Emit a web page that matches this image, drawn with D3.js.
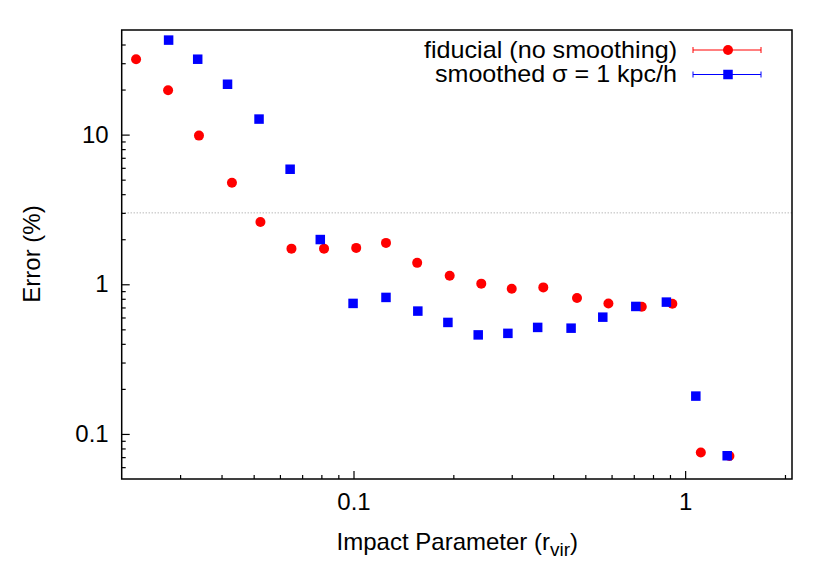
<!DOCTYPE html>
<html>
<head>
<meta charset="utf-8">
<script src="https://d3js.org/d3.v7.min.js"></script>
<style>
  body { margin: 0; background: #fff; }
  text { font-family: "Liberation Sans", Arial, Helvetica, sans-serif; fill: #000; }
</style>
</head>
<body>
<div id="chart"></div>
<script>
// values
const fidX = [0.0221, 0.0276, 0.0342, 0.0430, 0.0524, 0.0650, 0.0815, 0.1019, 0.1253, 0.1556,
              0.1950, 0.2428, 0.300, 0.3735, 0.472, 0.587, 0.740, 0.915, 1.115, 1.36];
const fidY = [31.9, 19.8, 9.85, 4.77, 2.61, 1.73, 1.73, 1.75, 1.89, 1.39,
              1.14, 1.01, 0.933, 0.953, 0.809, 0.745, 0.707, 0.741, 0.0751, 0.0713];
const smX = [0.0277, 0.0339, 0.0417, 0.0519, 0.0644, 0.0794, 0.0997, 0.1253, 0.1563, 0.1926,
             0.2377, 0.2921, 0.3592, 0.453, 0.5645, 0.710, 0.878, 1.077, 1.339];
const smY = [42.8, 31.9, 21.7, 12.7, 5.87, 1.99, 0.745, 0.817, 0.662, 0.556,
             0.459, 0.470, 0.515, 0.509, 0.603, 0.711, 0.760, 0.179, 0.0715];
const xMajor = [0.1, 1];
const xMinor = [0.03, 0.04, 0.05, 0.06, 0.07, 0.08, 0.09, 0.2, 0.3, 0.4, 0.5, 0.6, 0.7, 0.8, 0.9, 2];
const yMajor = [0.1, 1, 10];
const yMinor = [0.06, 0.07, 0.08, 0.09, 0.2, 0.3, 0.4, 0.5, 0.6, 0.7, 0.8, 0.9,
                2, 3, 4, 5, 6, 7, 8, 9, 20, 30, 40];
const refLine = 3;
const legendLabels = ["fiducial (no smoothing)", "smoothed \u03c3 = 1 kpc/h"];

const w = 830, h = 581;
const pLeft = 121.7, pRight = 792, pTop = 30, pBottom = 479;

const svg = d3.select("#chart").append("svg")
  .attr("width", w).attr("height", h);

const x = d3.scaleLog().domain([0.02, 2.1]).range([pLeft, pRight]);
const y = d3.scaleLog().domain([0.05, 50]).range([pBottom, pTop]);

// dotted reference line
svg.append("line")
  .attr("x1", pLeft).attr("x2", pRight)
  .attr("y1", y(refLine)).attr("y2", y(refLine))
  .attr("stroke", "#9a9a9a").attr("stroke-width", 1)
  .attr("stroke-dasharray", "1,2");

// axes (ticks point inward)
svg.append("g").attr("transform", "translate(0," + pBottom + ")")
  .call(d3.axisBottom(x).tickValues(xMajor).tickFormat(d3.format("")).tickSize(-8).tickPadding(14));
svg.append("g").attr("transform", "translate(0," + pBottom + ")")
  .call(d3.axisBottom(x).tickValues(xMinor).tickFormat("").tickSize(-4));
svg.append("g").attr("transform", "translate(" + pLeft + ",0)")
  .call(d3.axisLeft(y).tickValues(yMajor).tickFormat(d3.format("")).tickSize(-8).tickPadding(13));
svg.append("g").attr("transform", "translate(" + pLeft + ",0)")
  .call(d3.axisLeft(y).tickValues(yMinor).tickFormat("").tickSize(-4));

svg.selectAll(".domain").remove();
svg.selectAll(".tick line").attr("stroke", "#000").attr("stroke-width", 1.2);
svg.selectAll(".tick text").style("font-size", "24px").attr("fill", "#000")
  .style("font-family", "'Liberation Sans', Arial, sans-serif");

// border
svg.append("rect")
  .attr("x", pLeft).attr("y", pTop)
  .attr("width", pRight - pLeft).attr("height", pBottom - pTop)
  .attr("fill", "none").attr("stroke", "#000").attr("stroke-width", 1.5);

// points
svg.append("g").selectAll("circle")
  .data(fidX.map((d, i) => [d, fidY[i]]))
  .join("circle")
  .attr("cx", d => x(d[0])).attr("cy", d => y(d[1]))
  .attr("r", 5).attr("fill", "#ff0000");

svg.append("g").selectAll("rect")
  .data(smX.map((d, i) => [d, smY[i]]))
  .join("rect")
  .attr("x", d => x(d[0]) - 4.75).attr("y", d => y(d[1]) - 4.75)
  .attr("width", 9.5).attr("height", 9.5).attr("fill", "#0000ff");

// axis labels
svg.append("text")
  .attr("x", (pLeft + pRight) / 2 + 0.5).attr("y", 550)
  .attr("text-anchor", "middle").style("font-size", "24px")
  .html("Impact Parameter (r<tspan dy='6' style='font-size:19px'>vir</tspan><tspan dy='-6'>)</tspan>");

svg.append("text")
  .attr("transform", "translate(40,254) rotate(-90)")
  .attr("text-anchor", "middle").style("font-size", "24px")
  .text("Error (%)");

// legend
const legColors = ["#ff0000", "#0000ff"];
const legRows = [50, 74.5];
const legWidths = [253, 242];
legendLabels.forEach((lab, i) => {
  const g = svg.append("g");
  g.append("text").attr("x", 677).attr("y", legRows[i] + 7.5)
    .attr("text-anchor", "end").style("font-size", "24px")
    .attr("textLength", legWidths[i]).attr("lengthAdjust", "spacingAndGlyphs")
    .text(lab);
  g.append("line").attr("x1", 693).attr("x2", 761)
    .attr("y1", legRows[i]).attr("y2", legRows[i])
    .attr("stroke", legColors[i]).attr("stroke-width", 1);
  [693, 761].forEach(cx => g.append("line")
    .attr("x1", cx).attr("x2", cx)
    .attr("y1", legRows[i] - 3).attr("y2", legRows[i] + 3)
    .attr("stroke", legColors[i]).attr("stroke-width", 1));
  if (i === 0) {
    g.append("circle").attr("cx", 728).attr("cy", legRows[i]).attr("r", 5).attr("fill", legColors[i]);
  } else {
    g.append("rect").attr("x", 728 - 4.75).attr("y", legRows[i] - 4.75)
      .attr("width", 9.5).attr("height", 9.5).attr("fill", legColors[i]);
  }
});
</script>
</body>
</html>
